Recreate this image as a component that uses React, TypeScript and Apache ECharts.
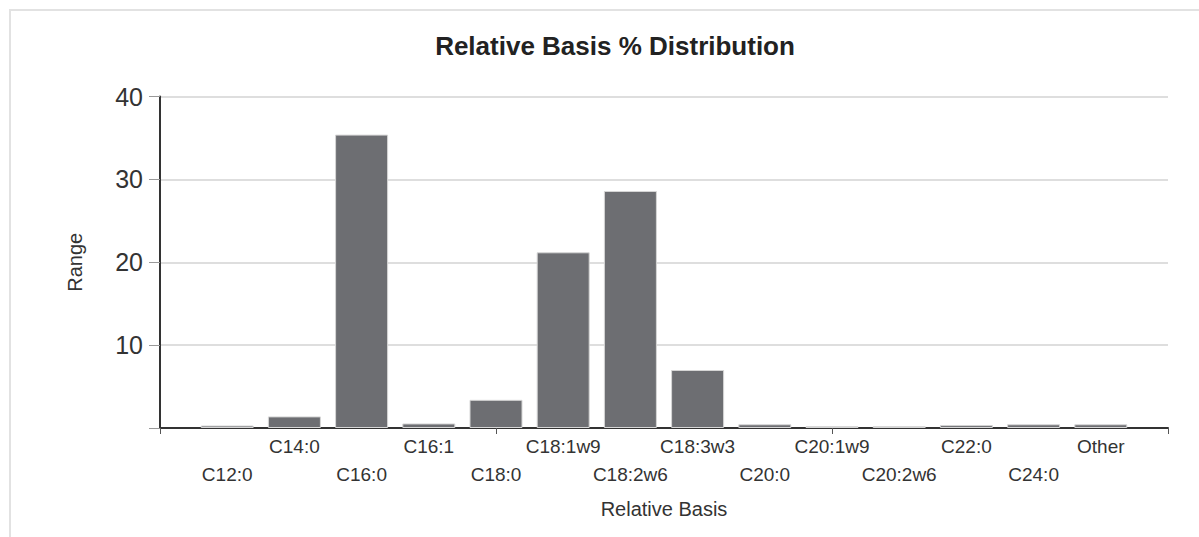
import React, { useEffect, useRef } from "react";
import * as echarts from "echarts";

const categories = [
  "C12:0", "C14:0", "C16:0", "C16:1", "C18:0", "C18:1w9", "C18:2w6",
  "C18:3w3", "C20:0", "C20:1w9", "C20:2w6", "C22:0", "C24:0", "Other",
];
const values = [0.3, 1.4, 35.4, 0.55, 3.4, 21.2, 28.6, 7.0, 0.45, 0.2, 0.2, 0.35, 0.45, 0.45];
const yTicks = [0, 10, 20, 30, 40];

const FONT = "'Liberation Sans', Arial, sans-serif";

export default function App() {
  const ref = useRef<HTMLDivElement>(null);
  useEffect(() => {
    const chart = echarts.init(ref.current!, undefined, { renderer: "svg" });
    const labelAxisData = ["", ...categories, ""];
    chart.setOption({
      animation: false,
      backgroundColor: "#ffffff",
      textStyle: { fontFamily: FONT },
      title: {
        text: "Relative Basis % Distribution",
        left: 610,
        top: 28,
        textAlign: "center",
        textStyle: { fontFamily: FONT, fontSize: 26, fontWeight: "bold", color: "#222" },
      },
      graphic: [
        {
          type: "rect",
          shape: { x: 10, y: 10, width: 1300, height: 700 },
          style: { fill: "none", stroke: "#e2e2e2", lineWidth: 2 },
          silent: true,
          z: -1,
        },
      ],
      grid: { left: 160, right: 31, top: 96.5, bottom: 109, containLabel: false },
      xAxis: [
        {
          type: "value",
          min: 0,
          max: categories.length + 1,
          interval: 5,
          axisLine: { show: true, lineStyle: { color: "#333", width: 2 } },
          axisTick: { show: true, length: 6, lineStyle: { color: "#555", width: 1 } },
          axisLabel: { show: false },
          splitLine: { show: false },
        },
        {
          type: "category",
          data: labelAxisData,
          boundaryGap: false,
          position: "bottom",
          name: "Relative Basis",
          nameLocation: "middle",
          nameGap: 71,
          nameTextStyle: { fontFamily: FONT, fontSize: 20, color: "#333" },
          axisLine: { show: false },
          axisTick: { show: false },
          axisLabel: {
            interval: 0,
            margin: 8,
            fontFamily: FONT,
            fontSize: 19,
            color: "#333",
            formatter: (v: string, i: number) =>
              v === "" ? "" : i % 2 === 1 ? `{lo|${v}}` : `{hi|${v}}`,
            rich: {
              hi: { fontFamily: FONT, fontSize: 19, color: "#333", lineHeight: 20 },
              lo: { fontFamily: FONT, fontSize: 19, color: "#333", lineHeight: 20, padding: [56, 0, 0, 0] },
            },
          },
          splitLine: { show: false },
        },
      ],
      yAxis: {
        type: "value",
        min: yTicks[0],
        max: yTicks[yTicks.length - 1],
        interval: 10,
        name: "Range",
        nameLocation: "middle",
        nameGap: 75,
        nameTextStyle: { fontFamily: FONT, fontSize: 20, color: "#333" },
        axisLine: { show: true, lineStyle: { color: "#333", width: 2 } },
        axisTick: { show: true, length: 11, lineStyle: { color: "#999", width: 1 } },
        axisLabel: {
          margin: 17,
          fontFamily: FONT,
          fontSize: 25,
          color: "#333",
          formatter: (v: number) => (v === 0 ? "" : String(v)),
        },
        splitLine: { show: true, lineStyle: { color: "#dedede", width: 2 } },
      },
      series: [
        {
          type: "bar",
          xAxisIndex: 0,
          data: values.map((v, i) => [i + 1, v]),
          barWidth: 53,
          itemStyle: { color: "#6d6e72", borderColor: "#d6d6d6", borderWidth: 1 },
          z: 3,
        },
      ],
    });
    return () => chart.dispose();
  }, []);
  return (
    <div
      ref={ref}
      style={{ position: "fixed", left: 0, top: 0, width: 1199, height: 537 }}
    />
  );
}
